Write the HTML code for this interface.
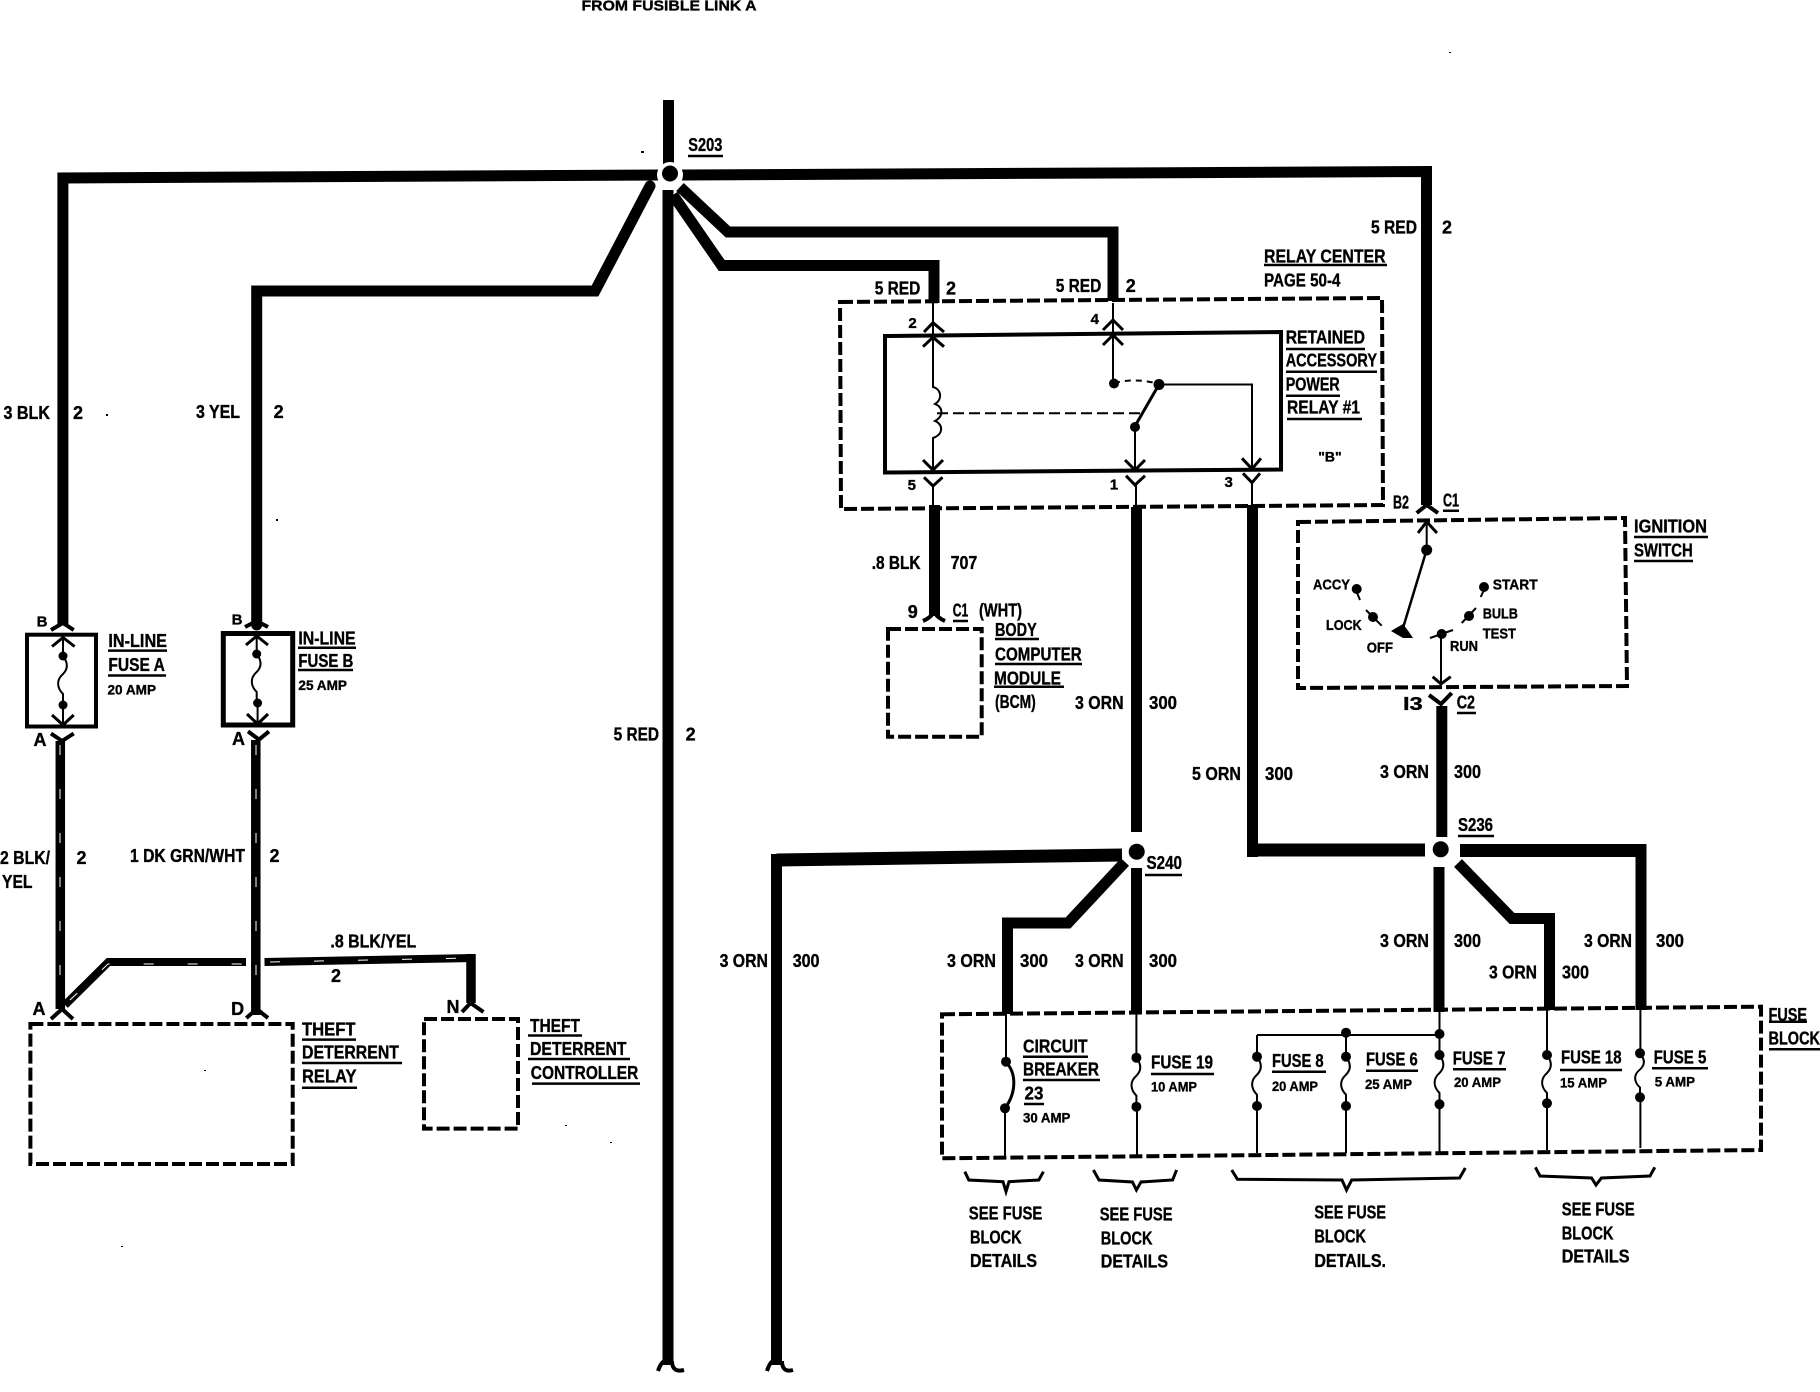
<!DOCTYPE html>
<html><head><meta charset="utf-8"><title>Wiring diagram</title>
<style>
html,body{margin:0;padding:0;background:#fff}
svg{display:block}
text{font-family:"Liberation Sans",sans-serif;font-weight:700;fill:#000;stroke:#000;stroke-width:.35;dominant-baseline:central}
.t{font-size:18px}.m{font-size:15px}.s{font-size:14px}.c{text-anchor:middle}
.w{fill:none;stroke:#000;stroke-width:11;stroke-linejoin:miter}
.x{fill:none;stroke:#000;stroke-width:13;stroke-linejoin:miter}
.v{fill:none;stroke:#000;stroke-width:9.5}
.n{fill:none;stroke:#000;stroke-width:2}
.h{fill:none;stroke:#000;stroke-width:3}
.g{fill:none;stroke:#000;stroke-width:4}
.d{fill:none;stroke:#000;stroke-width:4;stroke-dasharray:13 4}
.u{fill:none;stroke:#000;stroke-width:2.5}
.y{fill:none;stroke:#fff;stroke-width:1;stroke-dasharray:10 34}
</style></head><body>
<svg xmlns="http://www.w3.org/2000/svg" width="1820" height="1392" viewBox="0 0 1820 1392">
<rect width="1820" height="1392" fill="#fff"/>
<defs>
<path id="f" d="M0 0c6 8 4 14 0 18c-7 6-6 14 0 20l0 11" fill="none" stroke="#000" stroke-width="2"/>
</defs>

<!-- main wires -->
<path class="w" d="M668.5 100V165"/>
<path class="w" d="M668 190V1365"/>
<path class="g" d="M658 1371Q661 1362 665 1361M672 1361Q672 1373 684 1370"/>
<path class="w" d="M660 175L62.9 178V625"/>
<path class="w" stroke-linecap="round" d="M650 186L595 291H256.7V625"/>
<path class="w" d="M682 175L1426.5 171.5V505"/>
<path class="w" d="M680 187L728 232H1113V301"/>
<path class="w" d="M673 195L721.7 265.5H934V303"/>
<circle cx="670" cy="175" r="13" fill="#fff"/>
<circle cx="670" cy="173.5" r="8"/>

<!-- relay center -->
<polygon class="d" points="840,302 1382,298 1383,505 841,509"/>
<polygon class="g" points="885,336 1281,332 1281,469.5 885,472.5"/>
<path class="n" d="M933 303V387c8 2 10 12 2 17c8 3 9 12 0 17c8 3 9 13-2 17V470"/>
<path class="n" d="M1113 303V383"/>
<path class="h" d="M924 332L933 322.7L944 332M923 346.7L933 337.3L944 346.7M1103 330L1113 320L1123 330M1103 345L1113 335L1123 345"/>
<circle cx="1114" cy="383.5" r="5"/>
<path class="n" d="M1114 383C1130 379 1145 380 1159 384" stroke-dasharray="6 5"/>
<circle cx="1159" cy="384.5" r="5.5"/>
<path class="n" d="M1159 384.5H1252V470"/>
<path class="h" d="M1159 384.5L1134.6 426.7"/>
<circle cx="1135" cy="427" r="5"/>
<path class="n" d="M1135 427V470M1136 485V507M933 486V507M1252 482V507"/>
<path class="n" d="M937 413.3H1141" stroke-dasharray="11 5"/>
<path class="h" d="M923 460L933 470L943 460M924 477.3L933 486L942.5 477.3M1125 460L1135 470L1145 460M1126 475.7L1135 485L1145 475.7M1242 458.3L1252 469L1261 458.3M1243 473.3L1252 482.7L1260 473.3"/>
<path class="w" d="M934.5 505V616"/>
<path class="w" d="M1136.5 507V832"/>
<path class="w" d="M1252.5 505V857"/>
<path class="x" d="M1247 850H1425"/>

<!-- BCM -->
<path class="g" d="M923 621Q932 617 934 611Q936 617 945 621"/>
<polygon class="d" points="888,629 981.7,629 981.7,736.7 888,736.7"/>

<!-- S240 -->
<path class="x" d="M1122 855L776.5 860"/>
<path class="w" d="M776.5 854V1365"/>
<path class="g" d="M767 1371Q770 1362 773 1361M782 1361Q782 1373 793 1370"/>
<path class="w" d="M1125 862L1068 923H1007.5V1014"/>
<path class="w" d="M1136.5 868V1014"/>
<circle cx="1136.7" cy="851.7" r="8"/>

<!-- S236 -->
<path class="x" d="M1460 850.5H1641"/>
<path class="w" d="M1641 844V1010"/>
<path class="w" d="M1458 863L1512 918.5H1549.5V1010"/>
<path class="w" d="M1439 867V1012"/>
<path class="w" d="M1441.8 706V837"/>
<circle cx="1440.7" cy="849.3" r="8"/>

<!-- ignition switch -->
<polygon class="d" points="1298,522 1625,518 1627,686 1298,688"/>
<path class="g" d="M1416.7 513L1426.7 505L1438 513"/>
<path class="h" d="M1418 533L1426.7 521.7L1437 533"/>
<path class="n" d="M1426.7 522V550"/>
<circle cx="1426.7" cy="550" r="5.5"/>
<path d="M1426 552L1403 628" stroke="#000" stroke-width="2.5" fill="none"/>
<polygon points="1391,631 1403,624 1409,632 1413,638 1403,638"/>
<circle cx="1356.7" cy="589" r="5"/><path class="n" d="M1356.7 592L1360 600"/>
<circle cx="1373" cy="617" r="5"/><path class="n" d="M1366 610L1381.7 625.7"/>
<circle cx="1484" cy="587" r="5"/><path class="n" d="M1484 590L1480.7 597"/>
<circle cx="1469" cy="616" r="5"/><path class="n" d="M1461.7 623L1476 608"/>
<circle cx="1441.7" cy="634" r="5"/><path class="n" d="M1430 638L1453 630M1441 637V683"/>
<path class="h" d="M1432.7 676.7L1441 684L1450.7 676.7"/>
<path class="g" d="M1429 695L1441 704L1451.7 693"/>

<!-- inline fuse A -->
<rect class="g" x="27" y="634.7" width="69" height="91.8"/>
<path class="g" d="M51 630L62.9 623L73.7 630"/>
<path class="h" d="M52 646.5L63 637.5L74.6 646.5M52 715L63 725L73.7 715"/>
<path class="n" d="M63 638V656M63 705V725"/>
<circle cx="63" cy="656" r="4.5"/><circle cx="63" cy="705" r="4.5"/>
<use href="#f" transform="translate(63 656)"/>
<path class="g" d="M51 733.5L62 741L73.7 733.5"/>
<path class="v" d="M60.3 741V1009"/>
<path class="y" d="M60 745V1005"/>

<!-- inline fuse B -->
<rect x="223.3" y="633.5" width="69.4" height="91.5" fill="none" stroke="#000" stroke-width="5"/>
<path class="g" d="M245 627L256.7 621L268 627"/>
<path class="h" d="M246 645L256.7 636L268 645M247 714L257.6 724L268 714"/>
<path class="n" d="M256.7 637V654M257.6 703V724"/>
<circle cx="256.7" cy="654" r="4.5"/><circle cx="257.6" cy="703" r="4.5"/>
<use href="#f" transform="translate(256.7 654)"/>
<path class="g" d="M248 731.4L259 739.6L269 731.4"/>
<path class="v" d="M255.8 740V1015"/>
<path class="y" d="M256 745V1010"/>

<!-- theft wires -->
<path d="M65 1005L108.4 962H246" fill="none" stroke="#000" stroke-width="8"/>
<path class="y" d="M70 1000L108 964H244"/>
<path d="M264.5 962L475 958" fill="none" stroke="#000" stroke-width="8"/>
<path class="y" d="M270 962L470 958"/>
<path class="v" d="M471 954V1003"/>
<path class="g" d="M51 1019L62 1009L73 1019M246.3 1018L256.7 1009L268 1018M462 1012L470.5 1003L483.5 1012"/>
<polygon class="d" points="30.4,1024 292.7,1024 292.7,1164 30.4,1164"/>
<polygon class="d" points="424,1019 518,1019 518,1128.6 424,1128.6"/>

<!-- fuse block -->
<polygon class="d" points="942,1014.3 1761,1006.7 1761,1150 942,1158.3"/>
<path class="n" d="M1006 1014V1061M1005 1108V1157M1136.4 1014V1057M1137 1106V1155M1257 1035V1056M1257 1106V1153M1346 1033V1056M1346 1106V1153M1439.5 1012V1055M1439.5 1104V1152M1547 1010V1055M1547 1103V1150M1640.4 1010V1053M1640.4 1097V1148M1257 1035H1439.5"/>
<path class="h" d="M1006 1062C1018 1075 1015 1095 1005 1108"/>
<g>
<circle cx="1006" cy="1061.7" r="5"/><circle cx="1005" cy="1108.3" r="5"/>
<circle cx="1136.4" cy="1057.7" r="5"/><circle cx="1136.4" cy="1106.7" r="5"/>
<circle cx="1257" cy="1056.7" r="5"/><circle cx="1257" cy="1106" r="5"/>
<circle cx="1346" cy="1056.7" r="5"/><circle cx="1346" cy="1106" r="5"/>
<circle cx="1439.5" cy="1055" r="5"/><circle cx="1439.5" cy="1104.3" r="5"/>
<circle cx="1547" cy="1055" r="5"/><circle cx="1547" cy="1103.3" r="5"/>
<circle cx="1640" cy="1053.3" r="5"/><circle cx="1640" cy="1097.3" r="5"/>
<circle cx="1346" cy="1032.7" r="5"/><circle cx="1439.5" cy="1034" r="5"/>
<use href="#f" transform="translate(1136.4 1057.7)"/>
<use href="#f" transform="translate(1257 1056.7)"/>
<use href="#f" transform="translate(1346 1056.7)"/>
<use href="#f" transform="translate(1439.5 1055)"/>
<use href="#f" transform="translate(1547 1055)"/>
<use href="#f" transform="translate(1640 1053.3) scale(1 .9)"/>
</g>

<!-- braces -->
<path class="h" d="M964.8 1171.7L968.8 1180L1003 1181.7L1006 1191.7L1009 1181.7L1038.8 1180L1043.4 1171.7"/>
<path class="h" d="M1093.4 1170L1099 1180L1132.4 1182L1136.4 1190L1141 1182L1172.6 1180L1176.6 1170"/>
<path class="h" d="M1231.7 1170L1237.4 1179.3L1342 1180L1346.5 1190L1351.7 1180L1459.6 1178L1465.3 1168"/>
<path class="h" d="M1535.4 1167.3L1540 1176L1591.6 1178L1596 1185L1601.4 1178L1650 1176L1654.8 1167.3"/>

<!-- underlines -->
<path class="u" d="M688 156H723M108 650.6H167M108 675.5H166M298 647.8H356M298 670H353M302 1039.6H356M302 1063H402M302 1087.8H357M528 1035.5H582M528 1059H630M532 1083.6H640M1264 265H1387M1286 349H1365M1286 371.7H1377M1286 395.7H1340M1287 419H1362M1443 510.7H1459M1634 537H1708M1634 561H1693M1457 713H1476M953 621H968M995 639H1039M995 664H1082M994 686.7H1064M1145 875H1182M1458 836H1494M1023 1056.7H1088M1023 1080H1100M1024 1104H1044M1151 1074H1214M1272 1071.7H1326M1366 1070.7H1418M1453 1069.3H1506M1560 1070H1622M1652 1068.3H1708M1769 1021.7H1807M1769 1049.3H1820"/>

<!-- labels -->
<text class="m" x="581.5" y="6" textLength="175" lengthAdjust="spacingAndGlyphs">FROM FUSIBLE LINK A</text>
<text class="t" x="688.3" y="145" textLength="34" lengthAdjust="spacingAndGlyphs">S203</text>
<text class="t" x="3.5" y="413" textLength="46.5" lengthAdjust="spacingAndGlyphs">3 BLK</text>
<text class="t c" x="78" y="413">2</text>
<text class="t" x="196" y="412" textLength="44" lengthAdjust="spacingAndGlyphs">3 YEL</text>
<text class="t c" x="278.6" y="412">2</text>
<text class="t" x="1371" y="227.5" textLength="46" lengthAdjust="spacingAndGlyphs">5 RED</text>
<text class="t c" x="1447" y="227.5">2</text>
<text class="t" x="874.7" y="288.3" textLength="45.6" lengthAdjust="spacingAndGlyphs">5 RED</text>
<text class="t c" x="951" y="288.3">2</text>
<text class="t" x="1055.7" y="286" textLength="45.6" lengthAdjust="spacingAndGlyphs">5 RED</text>
<text class="t c" x="1130.8" y="286">2</text>
<text class="t" x="613.6" y="734.7" textLength="45.4" lengthAdjust="spacingAndGlyphs">5 RED</text>
<text class="t c" x="690.6" y="734.7">2</text>

<text class="t" x="1264" y="256.7" textLength="121.6" lengthAdjust="spacingAndGlyphs">RELAY CENTER</text>
<text class="t" x="1264" y="280.7" textLength="76.5" lengthAdjust="spacingAndGlyphs">PAGE 50-4</text>
<text class="t" x="1285.7" y="337.7" textLength="79.3" lengthAdjust="spacingAndGlyphs">RETAINED</text>
<text class="t" x="1285.7" y="360.7" textLength="91.3" lengthAdjust="spacingAndGlyphs">ACCESSORY</text>
<text class="t" x="1285.7" y="384.3" textLength="54" lengthAdjust="spacingAndGlyphs">POWER</text>
<text class="t" x="1287" y="407.7" textLength="73" lengthAdjust="spacingAndGlyphs">RELAY #1</text>
<text class="s c" x="1330" y="456.7">"B"</text>
<text class="m c" x="912.6" y="323.3">2</text>
<text class="m c" x="1094.8" y="319.3">4</text>
<text class="m c" x="911.8" y="485.7">5</text>
<text class="m c" x="1114" y="485">1</text>
<text class="m c" x="1228.7" y="482.7">3</text>

<text class="t" x="871.7" y="563" textLength="48.8" lengthAdjust="spacingAndGlyphs">.8 BLK</text>
<text class="t" x="950.6" y="563" textLength="26.7" lengthAdjust="spacingAndGlyphs">707</text>
<text class="t c" x="912.7" y="612">9</text>
<text class="t" x="952.7" y="610.7" textLength="15.5" lengthAdjust="spacingAndGlyphs">C1</text>
<text class="t" x="979" y="610.7" textLength="43" lengthAdjust="spacingAndGlyphs">(WHT)</text>
<text class="t" x="995" y="630" textLength="41.7" lengthAdjust="spacingAndGlyphs">BODY</text>
<text class="t" x="995" y="654.3" textLength="86.7" lengthAdjust="spacingAndGlyphs">COMPUTER</text>
<text class="t" x="994" y="678.3" textLength="67" lengthAdjust="spacingAndGlyphs">MODULE</text>
<text class="t" x="995" y="702" textLength="40.7" lengthAdjust="spacingAndGlyphs">(BCM)</text>

<text class="t" x="1075" y="703" textLength="48.6" lengthAdjust="spacingAndGlyphs">3 ORN</text>
<text class="t" x="1149" y="703" textLength="28" lengthAdjust="spacingAndGlyphs">300</text>
<text class="t" x="1192" y="774" textLength="49" lengthAdjust="spacingAndGlyphs">5 ORN</text>
<text class="t" x="1265" y="774" textLength="28" lengthAdjust="spacingAndGlyphs">300</text>
<text class="t" x="1380" y="772" textLength="49" lengthAdjust="spacingAndGlyphs">3 ORN</text>
<text class="t" x="1454" y="772" textLength="27" lengthAdjust="spacingAndGlyphs">300</text>
<text class="t" x="1458" y="825" textLength="35" lengthAdjust="spacingAndGlyphs">S236</text>
<text class="t" x="1146.5" y="863" textLength="35.5" lengthAdjust="spacingAndGlyphs">S240</text>
<text class="t" x="1380" y="941" textLength="49" lengthAdjust="spacingAndGlyphs">3 ORN</text>
<text class="t" x="1454" y="941" textLength="27" lengthAdjust="spacingAndGlyphs">300</text>
<text class="t" x="1489" y="972.7" textLength="48" lengthAdjust="spacingAndGlyphs">3 ORN</text>
<text class="t" x="1562" y="972.7" textLength="27" lengthAdjust="spacingAndGlyphs">300</text>
<text class="t" x="1584" y="941" textLength="48" lengthAdjust="spacingAndGlyphs">3 ORN</text>
<text class="t" x="1656" y="941" textLength="28" lengthAdjust="spacingAndGlyphs">300</text>
<text class="t" x="947" y="961" textLength="49" lengthAdjust="spacingAndGlyphs">3 ORN</text>
<text class="t" x="1020" y="961" textLength="28" lengthAdjust="spacingAndGlyphs">300</text>
<text class="t" x="1075" y="961" textLength="48.6" lengthAdjust="spacingAndGlyphs">3 ORN</text>
<text class="t" x="1149" y="961" textLength="28" lengthAdjust="spacingAndGlyphs">300</text>
<text class="t" x="719.6" y="961" textLength="48.4" lengthAdjust="spacingAndGlyphs">3 ORN</text>
<text class="t" x="792.7" y="961" textLength="26.8" lengthAdjust="spacingAndGlyphs">300</text>

<text class="m c" x="42" y="622">B</text>
<text class="t c" x="40" y="740">A</text>
<text class="m c" x="237" y="620">B</text>
<text class="t c" x="238.5" y="739">A</text>
<text class="t" x="108.4" y="641" textLength="58.6" lengthAdjust="spacingAndGlyphs">IN-LINE</text>
<text class="t" x="108.4" y="665" textLength="56.4" lengthAdjust="spacingAndGlyphs">FUSE A</text>
<text class="s" x="107.5" y="689.4" textLength="48.5" lengthAdjust="spacingAndGlyphs">20 AMP</text>
<text class="t" x="298.4" y="638.4" textLength="57.2" lengthAdjust="spacingAndGlyphs">IN-LINE</text>
<text class="t" x="298.4" y="660.8" textLength="55" lengthAdjust="spacingAndGlyphs">FUSE B</text>
<text class="s" x="298.4" y="685" textLength="48.6" lengthAdjust="spacingAndGlyphs">25 AMP</text>
<text class="t" x="0" y="858" textLength="50" lengthAdjust="spacingAndGlyphs">2 BLK/</text>
<text class="t c" x="81.5" y="858">2</text>
<text class="t" x="2" y="882" textLength="30.5" lengthAdjust="spacingAndGlyphs">YEL</text>
<text class="t" x="130" y="856" textLength="115" lengthAdjust="spacingAndGlyphs">1 DK GRN/WHT</text>
<text class="t c" x="274.5" y="856">2</text>
<text class="t" x="330.4" y="941.6" textLength="85.9" lengthAdjust="spacingAndGlyphs">.8 BLK/YEL</text>
<text class="t c" x="336" y="976">2</text>
<text class="t c" x="39" y="1009">A</text>
<text class="t c" x="237.6" y="1009">D</text>
<text class="t c" x="453" y="1007">N</text>
<text class="t" x="302" y="1029.4" textLength="53.6" lengthAdjust="spacingAndGlyphs">THEFT</text>
<text class="t" x="302" y="1052.6" textLength="97" lengthAdjust="spacingAndGlyphs">DETERRENT</text>
<text class="t" x="302" y="1076.3" textLength="54.5" lengthAdjust="spacingAndGlyphs">RELAY</text>
<text class="t" x="530" y="1026" textLength="50" lengthAdjust="spacingAndGlyphs">THEFT</text>
<text class="t" x="530" y="1049" textLength="96.6" lengthAdjust="spacingAndGlyphs">DETERRENT</text>
<text class="t" x="530.8" y="1073" textLength="107.5" lengthAdjust="spacingAndGlyphs">CONTROLLER</text>

<text class="m" x="1313" y="585" textLength="37" lengthAdjust="spacingAndGlyphs">ACCY</text>
<text class="m" x="1326" y="625.7" textLength="35.7" lengthAdjust="spacingAndGlyphs">LOCK</text>
<text class="m" x="1366.7" y="648" textLength="26.3" lengthAdjust="spacingAndGlyphs">OFF</text>
<text class="m" x="1450" y="646.7" textLength="28" lengthAdjust="spacingAndGlyphs">RUN</text>
<text class="m" x="1492.7" y="585" textLength="45" lengthAdjust="spacingAndGlyphs">START</text>
<text class="m" x="1482.7" y="614" textLength="35.3" lengthAdjust="spacingAndGlyphs">BULB</text>
<text class="m" x="1482.7" y="634" textLength="33.3" lengthAdjust="spacingAndGlyphs">TEST</text>
<text class="t" x="1393" y="502.7" textLength="16" lengthAdjust="spacingAndGlyphs">B2</text>
<text class="t" x="1443" y="500.7" textLength="16" lengthAdjust="spacingAndGlyphs">C1</text>
<text class="t" x="1634" y="526.7" textLength="73" lengthAdjust="spacingAndGlyphs">IGNITION</text>
<text class="t" x="1634" y="550.7" textLength="58.7" lengthAdjust="spacingAndGlyphs">SWITCH</text>
<text class="t" x="1403" y="704" textLength="19.7" lengthAdjust="spacingAndGlyphs">I3</text>
<text class="t" x="1456.7" y="702.7" textLength="18.3" lengthAdjust="spacingAndGlyphs">C2</text>

<text class="t" x="1023" y="1046.7" textLength="64.6" lengthAdjust="spacingAndGlyphs">CIRCUIT</text>
<text class="t" x="1023" y="1069.3" textLength="76" lengthAdjust="spacingAndGlyphs">BREAKER</text>
<text class="t" x="1024.5" y="1093.3" textLength="18.9" lengthAdjust="spacingAndGlyphs">23</text>
<text class="s" x="1023" y="1117.3" textLength="47.4" lengthAdjust="spacingAndGlyphs">30 AMP</text>
<text class="t" x="1151" y="1062.3" textLength="62" lengthAdjust="spacingAndGlyphs">FUSE 19</text>
<text class="s" x="1151" y="1086.7" textLength="46" lengthAdjust="spacingAndGlyphs">10 AMP</text>
<text class="t" x="1272" y="1061" textLength="51.6" lengthAdjust="spacingAndGlyphs">FUSE 8</text>
<text class="s" x="1272" y="1086" textLength="46" lengthAdjust="spacingAndGlyphs">20 AMP</text>
<text class="t" x="1366" y="1059.3" textLength="51.7" lengthAdjust="spacingAndGlyphs">FUSE 6</text>
<text class="s" x="1365" y="1084" textLength="47" lengthAdjust="spacingAndGlyphs">25 AMP</text>
<text class="t" x="1452.7" y="1058.3" textLength="52.8" lengthAdjust="spacingAndGlyphs">FUSE 7</text>
<text class="s" x="1454" y="1082" textLength="47" lengthAdjust="spacingAndGlyphs">20 AMP</text>
<text class="t" x="1561" y="1057.7" textLength="60.5" lengthAdjust="spacingAndGlyphs">FUSE 18</text>
<text class="s" x="1560" y="1082.3" textLength="47" lengthAdjust="spacingAndGlyphs">15 AMP</text>
<text class="t" x="1653.6" y="1057.3" textLength="52.8" lengthAdjust="spacingAndGlyphs">FUSE 5</text>
<text class="s" x="1654.8" y="1081.7" textLength="40.2" lengthAdjust="spacingAndGlyphs">5 AMP</text>
<text class="t" x="1768.5" y="1015" textLength="38.5" lengthAdjust="spacingAndGlyphs">FUSE</text>
<text class="t" x="1768.5" y="1038.3" textLength="51.5" lengthAdjust="spacingAndGlyphs">BLOCK</text>

<text class="t" x="968.8" y="1213.3" textLength="73.5" lengthAdjust="spacingAndGlyphs">SEE FUSE</text>
<text class="t" x="970" y="1237.7" textLength="51.6" lengthAdjust="spacingAndGlyphs">BLOCK</text>
<text class="t" x="970" y="1261" textLength="67" lengthAdjust="spacingAndGlyphs">DETAILS</text>
<text class="t" x="1099.7" y="1214.3" textLength="72.9" lengthAdjust="spacingAndGlyphs">SEE FUSE</text>
<text class="t" x="1100.8" y="1238.3" textLength="51.7" lengthAdjust="spacingAndGlyphs">BLOCK</text>
<text class="t" x="1100.8" y="1261.7" textLength="67.2" lengthAdjust="spacingAndGlyphs">DETAILS</text>
<text class="t" x="1314.4" y="1212.7" textLength="71.6" lengthAdjust="spacingAndGlyphs">SEE FUSE</text>
<text class="t" x="1314.4" y="1236.7" textLength="51.6" lengthAdjust="spacingAndGlyphs">BLOCK</text>
<text class="t" x="1314.4" y="1261" textLength="71.6" lengthAdjust="spacingAndGlyphs">DETAILS.</text>
<text class="t" x="1561.8" y="1209.3" textLength="72.9" lengthAdjust="spacingAndGlyphs">SEE FUSE</text>
<text class="t" x="1561.8" y="1233.3" textLength="51.7" lengthAdjust="spacingAndGlyphs">BLOCK</text>
<text class="t" x="1561.8" y="1256.7" textLength="67.7" lengthAdjust="spacingAndGlyphs">DETAILS</text>

<!-- specks -->
<g>
<rect x="641" y="151" width="3" height="2"/><rect x="1449" y="52" width="2" height="1"/>
<rect x="106" y="414" width="2" height="2"/><rect x="276" y="519" width="2" height="2"/>
<rect x="121" y="1246" width="2" height="1"/><rect x="204" y="1070" width="2" height="1"/>
<rect x="565" y="1125" width="2" height="1"/><rect x="610" y="1142" width="2" height="1"/>
</g>
</svg>
</body></html>
